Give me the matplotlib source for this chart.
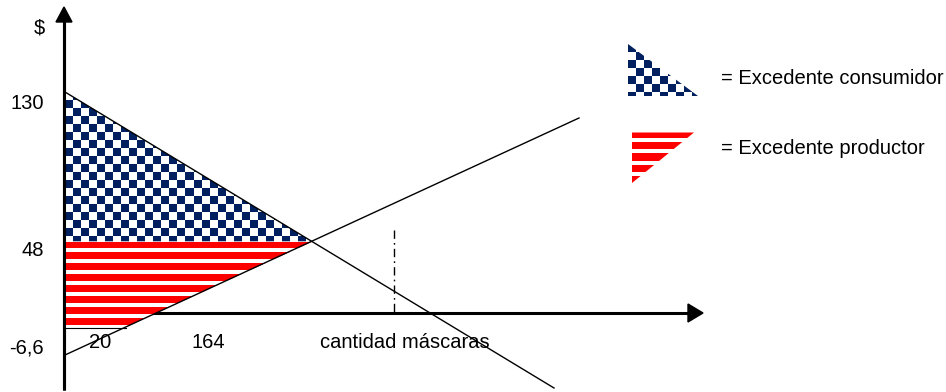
import numpy as np
import matplotlib
matplotlib.use("Agg")
import matplotlib.pyplot as plt
from matplotlib.patches import Polygon

plt.rcParams['font.family'] = ['Liberation Sans', 'DejaVu Sans']

# ---- diagram data (schematic, in drawing units) ----
demand_x = [65, 554]
demand_y = [92, 388]
supply_x = [65, 579]
supply_y = [355, 118]
quota_x = 394                 # dash-dot vertical reference
quota_y = [230, 313]
producer_floor = 327          # lower edge of producer-surplus area

y_tick_labels = ['130', '48', '-6,6']
y_tick_pos = [103, 250, 348]
x_tick_labels = ['20', '164']
x_tick_pos = [100, 208]
x_axis_label = 'cantidad máscaras'
y_axis_label = '$'
legend_labels = ['= Excedente consumidor', '= Excedente productor']

NAVY = '#002060'
RED = '#FF0000'
FS = 14.5

W, H = 946, 392
fig = plt.figure(figsize=(W / 100, H / 100), dpi=100)
ax = fig.add_axes([0, 0, 1, 1])
ax.set_xlim(0, W)
ax.set_ylim(H, 0)
ax.axis('off')


def line_y(xs, ys, x):
    return ys[0] + (ys[1] - ys[0]) * (x - xs[0]) / (xs[1] - xs[0])


def line_x(xs, ys, y):
    return xs[0] + (xs[1] - xs[0]) * (y - ys[0]) / (ys[1] - ys[0])


# equilibrium from intersection
md = (demand_y[1] - demand_y[0]) / (demand_x[1] - demand_x[0])
ms = (supply_y[1] - supply_y[0]) / (supply_x[1] - supply_x[0])
ex = (supply_y[0] - demand_y[0] + md * demand_x[0] - ms * supply_x[0]) / (md - ms)
ey = line_y(demand_x, demand_y, ex)


def checker_fill(poly_pts, cell=8, phase=0, z=2):
    pts = np.array(poly_pts)
    x0, y0 = np.floor(pts.min(axis=0))
    x1, y1 = np.ceil(pts.max(axis=0))
    w = int(x1 - x0); h = int(y1 - y0)
    jj, ii = np.meshgrid(np.arange(w), np.arange(h))
    m = ((ii // cell) + (jj // cell) + phase) % 2
    img = np.ones((h, w, 3))
    img[m == 0] = matplotlib.colors.to_rgb(NAVY)
    im = ax.imshow(img, extent=(x0, x0 + w, y0 + h, y0), origin='upper',
                   interpolation='nearest', zorder=z, aspect='auto')
    p = Polygon(pts, closed=True, facecolor='none', edgecolor='none')
    ax.add_patch(p)
    im.set_clip_path(p)


def stripe_fill(poly_pts, period=11, red_h=6.5, z=2):
    pts = np.array(poly_pts)
    x0, y0 = np.floor(pts.min(axis=0))
    x1, y1 = np.ceil(pts.max(axis=0))
    w = int(x1 - x0); h = int(y1 - y0)
    ii = np.arange(h)[:, None] * np.ones((1, w))
    m = (ii % period) < red_h
    img = np.ones((h, w, 3))
    img[m] = matplotlib.colors.to_rgb(RED)
    im = ax.imshow(img, extent=(x0, x0 + w, y0 + h, y0), origin='upper',
                   interpolation='nearest', zorder=z, aspect='auto')
    p = Polygon(pts, closed=True, facecolor='none', edgecolor='none')
    ax.add_patch(p)
    im.set_clip_path(p)


# axes with arrows
AX_LW = 2.2
ax.plot([64, 64], [390, 20], color='black', lw=AX_LW, zorder=1, solid_capstyle='butt')
ax.add_patch(Polygon([(56, 22), (72, 22), (64, 7)], closed=True, color='black', zorder=5))
ax.plot([64, 690], [313, 313], color='black', lw=AX_LW, zorder=1, solid_capstyle='butt')
ax.add_patch(Polygon([(688, 304), (688, 322), (703, 313)], closed=True, color='black', zorder=5))

# consumer surplus (checker)
cons = [(65, demand_y[0]), (ex, ey), (65, ey)]
checker_fill(cons, cell=8, phase=1, z=2)

# producer surplus (stripes), covering part of x-axis
floor_x = line_x(supply_x, supply_y, producer_floor)
prod = [(65, ey + 0.7), (ex, ey + 0.7), (floor_x, producer_floor), (65, producer_floor)]
stripe_fill(prod, z=2)
ax.plot([65, floor_x], [producer_floor + 0.5, producer_floor + 0.5], color='black', lw=0.8, zorder=3)

# redraw y axis on top
ax.plot([64, 64], [390, 20], color='black', lw=AX_LW, zorder=4, solid_capstyle='butt')

# demand & supply
ax.plot(demand_x, demand_y, color='black', lw=1.0, zorder=4)
ax.plot(supply_x, supply_y, color='black', lw=1.0, zorder=4)

# dash-dot reference
ax.plot([quota_x, quota_x], quota_y, color='black', lw=1.0, zorder=3,
        linestyle=(0, (6, 3, 1.2, 3)))

# texts
ax.text(39, 28, y_axis_label, fontsize=FS, ha='center', va='center')
for lab, yp in zip(y_tick_labels, y_tick_pos):
    ax.text(44, yp, lab, fontsize=FS, ha='right', va='center')
for lab, xp in zip(x_tick_labels, x_tick_pos):
    ax.text(xp, 342, lab, fontsize=FS, ha='center', va='center', zorder=6)
ax.text(320, 342, x_axis_label, fontsize=FS, ha='left', va='center', zorder=6)

# legend swatches
checker_fill([(628, 44), (628, 96), (698, 96)], cell=8, phase=0, z=2)
stripe_fill([(632, 132.5), (694, 132.5), (632, 183)], z=2)
ax.text(721, 78, legend_labels[0], fontsize=FS, ha='left', va='center')
ax.text(721, 148, legend_labels[1], fontsize=FS, ha='left', va='center')

ax.set_xlim(0, W)
ax.set_ylim(H, 0)
fig.savefig('out.png', dpi=100)
